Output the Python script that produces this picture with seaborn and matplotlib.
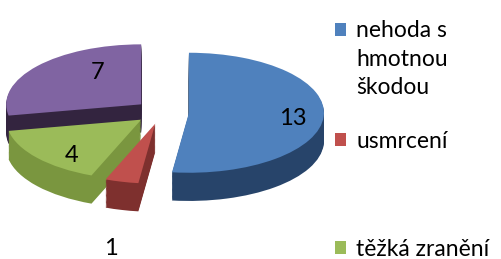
import matplotlib
matplotlib.use('Agg')
import matplotlib.pyplot as plt
from matplotlib.patches import Patch
import seaborn as sns

# data
categories = ['nehoda s hmotnou škodou', 'usmrcení', 'těžká zranění', 'lehká zranění']
values = [13, 1, 4, 7]
top_colors = ['#4F81BD', '#C0504D', '#9BBB59', '#8064A2']
side_colors = ['#27446A', '#7E302E', '#7A963F', '#33243F']

sns.set_theme(style='white')
plt.rcParams['font.family'] = ['Lato', 'DejaVu Sans']

fig = plt.figure(figsize=(5.02, 2.59), dpi=100)
ax = fig.add_axes([0, 0, 1, 1])

explode = [0.2] * len(values)
depth = 0.47
steps = 24

# side walls: the same pie stacked downwards in darker colours
for i in range(steps, 0, -1):
    ax.pie(values, explode=explode, startangle=90, counterclock=False,
           colors=side_colors, center=(0, -depth * i / steps),
           wedgeprops=dict(linewidth=0))

total = sum(values)
wedges, texts, autotexts = ax.pie(
    values, explode=explode, startangle=90, counterclock=False,
    colors=top_colors, wedgeprops=dict(linewidth=0),
    labels=['' if v > 1 else str(v) for v in values], labeldistance=2.1,
    autopct=lambda p: '' if round(p * total / 100) <= 1 else f'{round(p * total / 100)}',
    pctdistance=0.7,
    textprops=dict(fontsize=17, color='black', ha='center', va='center'))

# nudge labels like excel places them on the tilted faces
nudges = {0: (0.074, -0.05), 2: (0.022, -0.15), 3: (0.215, 0.083)}
for i, (dx, dy) in nudges.items():
    x, y = autotexts[i].get_position()
    autotexts[i].set_position((x + dx, y + dy))
x, y = texts[1].get_position()
texts[1].set_position((x + 0.19, y - 0.04))

# squash the circle into a tilted ellipse
ax.set_aspect('auto')
ax.set_xlim(-162 / 135, (502 - 162) / 135)
ax.set_ylim((112 - 259) / 60, 112 / 60)
ax.axis('off')

# legend, wrapped like in excel (last entry falls off the canvas)
blank = Patch(facecolor='none', edgecolor='none')
leg_kw = dict(loc='center left', bbox_transform=fig.transFigure, frameon=False,
              fontsize=16.5, handlelength=0.5, handleheight=0.5,
              handletextpad=0.42, borderpad=0, borderaxespad=0,
              labelcolor='black', labelspacing=0.32)
words = categories[0].split(' ')
leg1 = ax.legend([wedges[0], blank, blank], [' '.join(words[:2]), words[2], words[3]],
                 bbox_to_anchor=(335 / 502, 1 - 59 / 259), **leg_kw)
ax.add_artist(leg1)
leg2 = ax.legend([wedges[1]], [categories[1]],
                 bbox_to_anchor=(335 / 502, 1 - 141 / 259), **leg_kw)
ax.add_artist(leg2)
leg3 = ax.legend([wedges[2]], [categories[2]],
                 bbox_to_anchor=(335 / 502, 1 - 249 / 259), **leg_kw)

plt.savefig('out.png', dpi=100)
